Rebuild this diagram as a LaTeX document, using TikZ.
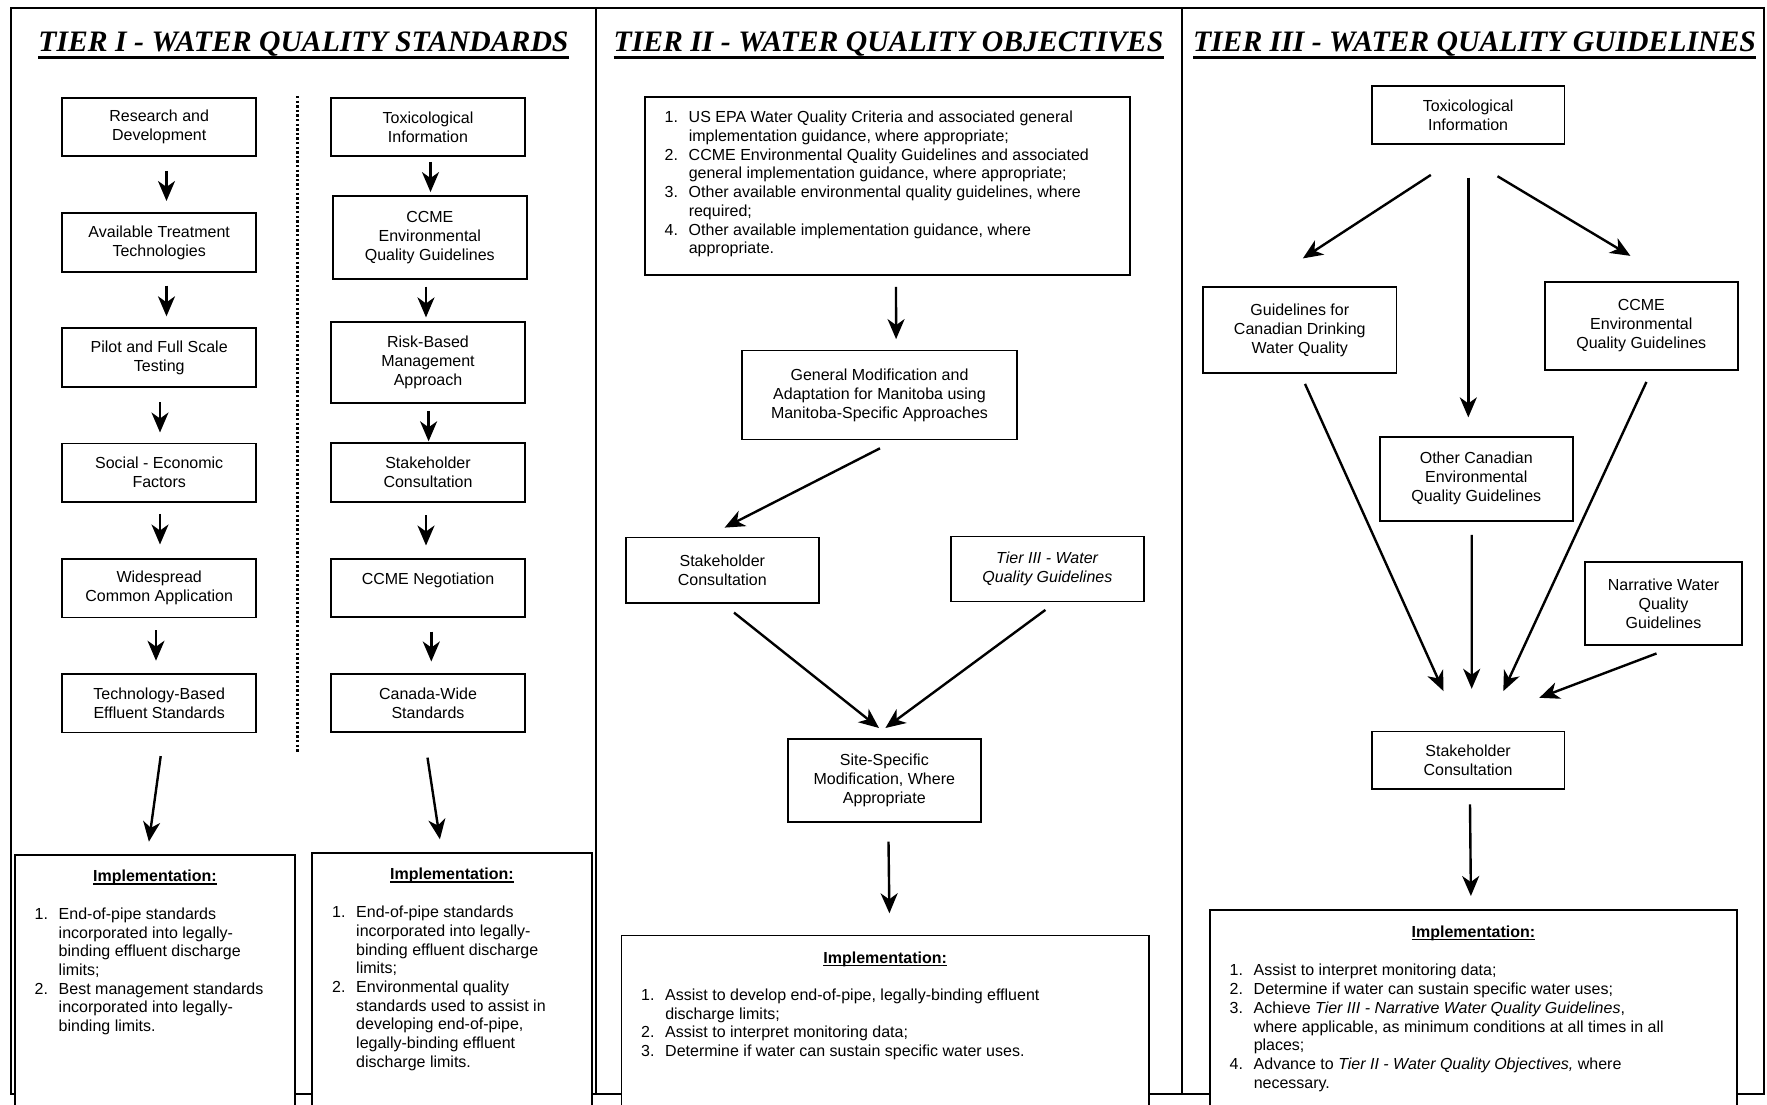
\documentclass[tikz,border=0pt]{standalone}
\usepackage{fontspec}
\setmainfont{Liberation Sans}
\newfontfamily\tierfont{Liberation Serif}
\usepackage{tikz}
\usetikzlibrary{arrows.meta}
\usetikzlibrary{calc}
\usetikzlibrary{positioning}

% thick underline: #1 = raise, #2 = thickness, #3 = text
\newcommand{\ulThick}[3]{\setbox0=\hbox{#3}\rlap{\rule[#1]{\wd0}{#2}}\box0}
\newcommand{\tierTitle}[1]{{\tierfont\bfseries\itshape\fontsize{29.7}{36}\selectfont\ulThick{-8pt}{3.3pt}{#1}}}
\newcommand{\implTitle}{{\bfseries\ulThick{-3.2pt}{1.5pt}{Implementation:}}}

\tikzset{
  box/.style={draw, line width=1.8pt, minimum width=194pt, minimum height=58.6pt,
    align=center, inner sep=2pt, font=\fontsize{16}{19}\selectfont},
  implbox/.style={draw, fill=white, line width=1.8pt, anchor=north west,
    minimum height=260pt, inner sep=0pt},
  flow/.style={arrows={-Stealth[length=20pt, width=17pt, inset=6pt]}, line width=2.4pt},
  listtxt/.style={anchor=base west, inner sep=0pt, font=\fontsize{16}{18.7}\selectfont},
  heading/.style={anchor=base, inner sep=0pt, font=\fontsize{16}{19}\selectfont},
}

\begin{document}
\begin{tikzpicture}[x=1pt, y=-1pt]

\useasboundingbox (0,0) rectangle (1767,1104);
\clip (0,0) rectangle (1767,1104);

% The frame
\def \yTop    {8}
\def \yBottom {1094}
\def \xLeft   {10.7}
\def \xRight  {1764}
\def \xDivONE {595.7}
\def \xDivTWO {1182}
\draw[line width=2.2pt] (\xLeft, \yTop) rectangle (\xRight, \yBottom);
\draw[line width=2.2pt] (\xDivONE, \yTop) -- (\xDivONE, \yBottom);
\draw[line width=2.2pt] (\xDivTWO, \yTop) -- (\xDivTWO, \yBottom);

% Titles
\node[anchor=base, inner sep=0pt] (titleONE)   at (303.5, 51) {\tierTitle{TIER I - WATER QUALITY STANDARDS}};
\node[anchor=base, inner sep=0pt] (titleTWO)   at (888.6, 51) {\tierTitle{TIER II - WATER QUALITY OBJECTIVES}};
\node[anchor=base, inner sep=0pt] (titleTHREE) at (1474.5, 51) {\tierTitle{TIER III - WATER QUALITY GUIDELINES}};

%%%%%%%%%% TIER I %%%%%%%%%%
\def \xColA {159.2}
\def \xColB {428}

% dotted divider between the two chains
\draw[line width=2.4pt, dash pattern=on 2.4pt off 2.2pt] (297.4, 96) -- (297.4, 752);

% left chain
\node[box] (resDev)     at (\xColA, 127)   {Research and\\Development};
\node[box] (availTech)  at (\xColA, 242.5) {Available Treatment\\Technologies};
\node[box] (pilotTest)  at (\xColA, 357.5) {Pilot and Full Scale\\Testing};
\node[box] (socEcon)    at (\xColA, 472.7) {Social - Economic\\Factors};
\node[box] (widespread) at (\xColA, 588.2) {Widespread\\Common Application};
\node[box] (techStd)    at (\xColA, 703.2) {Technology-Based\\Effluent Standards};

\draw[flow] ($(resDev.south)+(7.3,13.7)$)    -- ($(availTech.north)+(7.3,-11.3)$);
\draw[flow] ($(availTech.south)+(7.3,13)$)   -- ($(pilotTest.north)+(7.3,-11)$);
\draw[flow] ($(pilotTest.south)+(0.8,14.7)$) -- ($(socEcon.north)+(0.8,-10)$);
\draw[flow] ($(socEcon.south)+(0.8,11)$)     -- ($(widespread.north)+(0.8,-13.5)$);
\draw[flow] ($(widespread.south)+(-3.2,11.7)$) -- ($(techStd.north)+(-3.2,-12.3)$);

% right chain
\node[box] (toxInfoA)  at (\xColB, 127)   {Toxicological\\Information};
\node[box, minimum height=83.6pt] (ccmeEqgA) at (429.8, 237.5) {CCME\\Environmental\\Quality Guidelines};
\node[box, minimum height=81pt]   (riskMgmt) at (\xColB, 362.2) {Risk-Based\\Management\\Approach};
\node[box] (stakeA)    at (\xColB, 472.5) {Stakeholder\\Consultation};
\node[box] (ccmeNeg)   at (\xColB, 588)   {CCME Negotiation\\\mbox{}};
\node[box] (canadaStd) at (\xColB, 703)   {Canada-Wide\\Standards};

\draw[flow] ($(toxInfoA.south)+(2.5,4.7)$)  -- ($(ccmeEqgA.north)+(0.7,-2.7)$);
\draw[flow] ($(ccmeEqgA.south)+(-3.8,6.4)$) -- ($(riskMgmt.north)+(-2,-3.4)$);
\draw[flow] ($(riskMgmt.south)+(0.6,7.3)$)  -- ($(stakeA.north)+(0.6,-1)$);
\draw[flow] ($(stakeA.south)+(-2,12.7)$)    -- ($(ccmeNeg.north)+(-2,-12.3)$);
\draw[flow] ($(ccmeNeg.south)+(3.3,13.4)$)  -- ($(canadaStd.north)+(3.3,-11.3)$);

% implementation boxes
\node[implbox, minimum width=280pt] (implA) at (14, 854) {};
\node[implbox, minimum width=280pt] (implB) at (311, 851.7) {};

\draw[flow] ($(techStd.south)+(1.5,22.7)$)    -- ($(implA.north)+(-6,-12.3)$);
\draw[flow] ($(canadaStd.south)+(-0.5,24.4)$) -- ($(implB.north)+(-12,-12.4)$);

\node[heading] (implAhead) at ($(implA.north)+(0,27.6)$) {\implTitle};
\node[heading] (implBhead) at ($(implB.north)+(0,27.6)$) {\implTitle};

\node[listtxt] (implAlist) at ($(implA.north west)+(20.5,65.3)$) {%
\begin{tabular}[t]{@{}l@{\hspace{10.7pt}}l@{}}
1. & End-of-pipe standards\\
   & incorporated into legally-\\
   & binding effluent discharge\\
   & limits;\\
2. & Best management standards\\
   & incorporated into legally-\\
   & binding limits.
\end{tabular}};

\node[listtxt] (implBlist) at ($(implB.north west)+(21,66)$) {%
\begin{tabular}[t]{@{}l@{\hspace{10.7pt}}l@{}}
1. & End-of-pipe standards\\
   & incorporated into legally-\\
   & binding effluent discharge\\
   & limits;\\
2. & Environmental quality\\
   & standards used to assist in\\
   & developing end-of-pipe,\\
   & legally-binding effluent\\
   & discharge limits.
\end{tabular}};

%%%%%%%%%% TIER II %%%%%%%%%%
\node[box, minimum width=485pt, minimum height=178.3pt] (epaSources) at (887.2, 185.9) {};
\node[listtxt] (epaItems) at ($(epaSources.north west)+(20.7,27)$) {%
\begin{tabular}[t]{@{}l@{\hspace{10.7pt}}l@{}}
1. & US EPA Water Quality Criteria and associated general\\
   & implementation guidance, where appropriate;\\
2. & CCME Environmental Quality Guidelines and associated\\
   & general implementation guidance, where appropriate;\\
3. & Other available environmental quality guidelines, where\\
   & required;\\
4. & Other available implementation guidance, where\\
   & appropriate.
\end{tabular}};

\node[box, minimum width=274.4pt, minimum height=89pt] (genMod) at (879.5, 395)
  {General Modification and\\Adaptation for Manitoba using\\Manitoba-Specific Approaches};
\node[box, minimum width=193.3pt, minimum height=65.8pt] (stakeB) at (722.3, 570.4) {Stakeholder\\Consultation};
\node[box, minimum width=192.8pt, minimum height=65pt] (tierThreeRef) at (1047.4, 568.9)
  {\textit{Tier III - Water}\\\textit{Quality Guidelines}};
\node[box, minimum width=192.8pt, minimum height=83pt] (siteSpec) at (884.3, 780.7)
  {Site-Specific\\Modification, Where\\Appropriate};

\node[implbox, minimum width=527.4pt] (implC) at (620.6, 934.5) {};

\draw[flow] ($(epaSources.south)+(8.8,11)$)   -- ($(genMod.north)+(16.6,-10.5)$);
\draw[flow] ($(genMod.south)+(0.5,7.9)$)      -- ($(stakeB.north)+(2.3,-9)$);
\draw[flow] ($(stakeB.south)+(11.7,8.4)$)     -- ($(siteSpec.north)+(-5.3,-10.3)$);
\draw[flow] ($(tierThreeRef.south)+(-2,7.6)$) -- ($(siteSpec.north)+(1.1,-10.3)$);
\draw[flow] ($(siteSpec.south)+(4.2,18.4)$)   -- ($(implC.north)+(4.2,-21.2)$);

\node[heading] (implChead) at ($(implC.north)+(0,28.5)$) {\implTitle};
\node[listtxt] (implClist) at ($(implC.north west)+(20.4,66)$) {%
\begin{tabular}[t]{@{}l@{\hspace{10.7pt}}l@{}}
1. & Assist to develop end-of-pipe, legally-binding effluent\\
   & discharge limits;\\
2. & Assist to interpret monitoring data;\\
3. & Determine if water can sustain specific water uses.
\end{tabular}};

%%%%%%%%%% TIER III %%%%%%%%%%
\node[box, minimum width=192.8pt, minimum height=58.3pt] (toxInfoB) at (1468.1, 115.2) {Toxicological\\Information};
\node[box, minimum width=193.2pt, minimum height=86pt] (guideDrink) at (1299.8, 330.3)
  {Guidelines for\\Canadian Drinking\\Water Quality};
\node[box, minimum width=193.1pt, minimum height=88.3pt] (ccmeEqgB) at (1641.3, 325.9)
  {CCME\\Environmental\\Quality Guidelines};
\node[box, minimum width=192.7pt, minimum height=83.6pt] (otherCan) at (1476.3, 478.8)
  {Other Canadian\\Environmental\\Quality Guidelines};
\node[box, minimum width=157pt, minimum height=82.3pt] (narrWater) at (1663.5, 603.5)
  {Narrative Water\\Quality\\Guidelines};
\node[box, minimum width=192.8pt, minimum height=57.4pt] (stakeC) at (1468.1, 760.1) {Stakeholder\\Consultation};

\node[implbox, minimum width=527pt] (implD) at (1209, 909.4) {};

\draw[flow] ($(toxInfoB.south)+(-37.3,29.7)$) -- ($(guideDrink.north)+(3,-28)$);
\draw[flow] ($(toxInfoB.south)+(0.2,32.4)$)   -- ($(otherCan.north)+(-8,-18.7)$);
\draw[flow] ($(toxInfoB.south)+(29.4,31)$)    -- ($(ccmeEqgB.north)+(-10.9,-25)$);

\draw[flow] ($(guideDrink.south)+(5.2,9.7)$)  -- ($(stakeC.north)+(-24.6,-39.4)$);
\draw[flow] ($(otherCan.south)+(-4.6,13.4)$)  -- ($(stakeC.north)+(3.6,-41.7)$);
\draw[flow] ($(ccmeEqgB.south)+(5.1,11)$)     -- ($(stakeC.north)+(35.2,-39.4)$);
\draw[flow] ($(narrWater.south)+(-7,7.9)$)    -- ($(stakeC.north)+(71.2,-32.7)$);

\draw[flow] ($(stakeC.south)+(1.9,14.7)$)     -- ($(implD.north)+(-2.5,-13.4)$);

\node[heading] (implDhead) at ($(implD.north)+(0,27.8)$) {\implTitle};
\node[listtxt] (implDlist) at ($(implD.north west)+(20.5,66.5)$) {%
\begin{tabular}[t]{@{}l@{\hspace{10.7pt}}l@{}}
1. & Assist to interpret monitoring data;\\
2. & Determine if water can sustain specific water uses;\\
3. & Achieve \textit{Tier III - Narrative Water Quality Guidelines},\\
   & where applicable, as minimum conditions at all times in all\\
   & places;\\
4. & Advance to \textit{Tier II - Water Quality Objectives,} where\\
   & necessary.
\end{tabular}};

\end{tikzpicture}
\end{document}
